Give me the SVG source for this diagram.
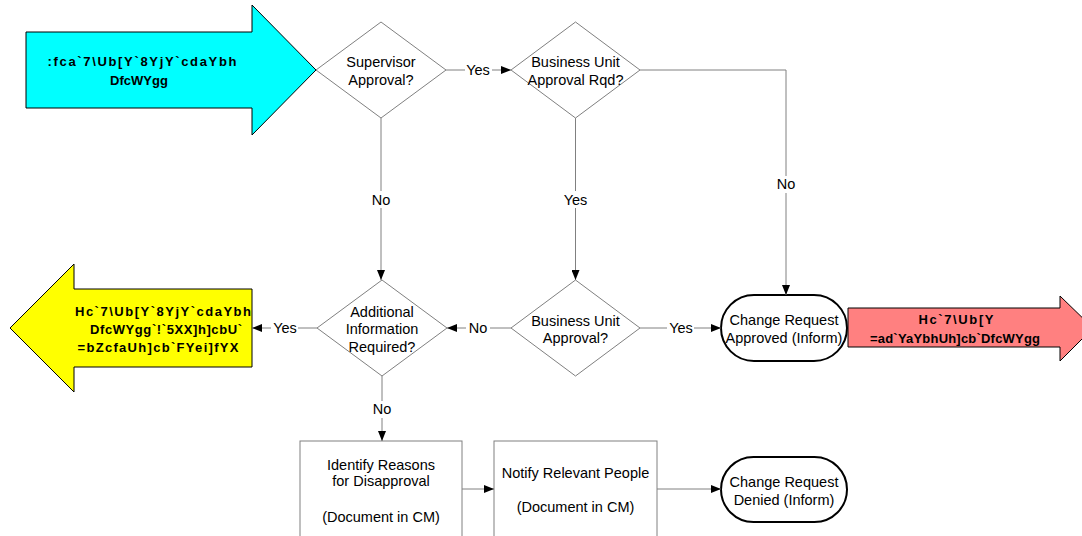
<svg xmlns="http://www.w3.org/2000/svg" width="1082" height="536" viewBox="0 0 1082 536">
<defs>
<marker id="ah" viewBox="0 0 10 8" refX="10" refY="4" markerWidth="10" markerHeight="8" markerUnits="userSpaceOnUse" orient="auto">
<path d="M0,0 L10,4 L0,8 Z" fill="#000"/>
</marker>
<style>
text{font-family:"Liberation Sans",Arial,sans-serif;font-size:14.5px;fill:#000;text-anchor:middle}
.big{font-weight:bold;font-size:13px}
.dia{fill:#fff;stroke:#808080;stroke-width:1}
.box{fill:#fff;stroke:#808080;stroke-width:1}
.term{fill:#fff;stroke:#000;stroke-width:2}
.arr{stroke:#000;stroke-width:1}
.con{fill:none;stroke:#808080;stroke-width:1;marker-end:url(#ah)}
.lbg{fill:#fff;stroke:none}
</style>
</defs>
<rect width="1082" height="536" fill="#fff"/>

<g id="arrow-in">
<path class="arr" fill="#00FFFF" d="M26,32 H252 V5 L316,70 L252,135 V108 H26 Z"/>
<text class="big" x="142" y="66" textLength="189" lengthAdjust="spacing">:fca`7\Ub[Y`8YjY`cdaYbh</text>
<text class="big" x="139" y="85">DfcWYgg</text>
</g>

<g id="arrow-info">
<path class="arr" fill="#FFFF00" d="M252,289 H74 V264 L10,328 L74,392 V367 H252 Z"/>
<text class="big" x="163" y="316" textLength="176" lengthAdjust="spacing">Hc`7\Ub[Y`8YjY`cdaYbh</text>
<text class="big" x="166" y="334" textLength="152" lengthAdjust="spacing">DfcWYgg`!`5XX]h]cbU`</text>
<text class="big" x="158" y="352" textLength="161" lengthAdjust="spacing">=bZcfaUh]cb`FYei]fYX</text>
</g>

<g id="arrow-out">
<path class="arr" fill="#FF8080" d="M848,308 H1060 V296 L1093,328 L1060,361 V347 H848 Z"/>
<text class="big" x="956" y="324" textLength="75" lengthAdjust="spacing">Hc`7\Ub[Y</text>
<text class="big" x="955" y="343" textLength="170" lengthAdjust="spacing">=ad`YaYbhUh]cb`DfcWYgg</text>
</g>

<g id="supervisor-approval">
<polygon class="dia" points="316,70 381,22 446,70 381,118"/>
<text x="381" y="67">Supervisor</text>
<text x="381" y="85">Approval?</text>
</g>

<g id="bu-approval-rqd">
<polygon class="dia" points="511,70 575.5,22 640,70 575.5,118"/>
<text x="575.5" y="67">Business Unit</text>
<text x="575.5" y="85">Approval Rqd?</text>
</g>

<g id="additional-info">
<polygon class="dia" points="317,328 382,280 447,328 382,376"/>
<text x="382" y="317">Additional</text>
<text x="382" y="334">Information</text>
<text x="382" y="352">Required?</text>
</g>

<g id="bu-approval">
<polygon class="dia" points="511,328 575.5,280 640,328 575.5,376"/>
<text x="575.5" y="326">Business Unit</text>
<text x="575.5" y="343">Approval?</text>
</g>

<g id="approved">
<rect class="term" x="721" y="295" width="126" height="66" rx="33" ry="33"/>
<text x="784" y="325">Change Request</text>
<text x="784" y="343">Approved (Inform)</text>
</g>

<g id="identify-reasons">
<rect class="box" x="300" y="441" width="162" height="110"/>
<text x="381" y="470">Identify Reasons</text>
<text x="381" y="486">for Disapproval</text>
<text x="381" y="522">(Document in CM)</text>
</g>

<g id="notify-people">
<rect class="box" x="494" y="441" width="163" height="110"/>
<text x="575.5" y="478">Notify Relevant People</text>
<text x="575.5" y="512">(Document in CM)</text>
</g>

<g id="denied">
<rect class="term" x="721" y="457" width="126" height="65" rx="32.5" ry="32.5"/>
<text x="784" y="487">Change Request</text>
<text x="784" y="505">Denied (Inform)</text>
</g>

<g id="connectors">
<path class="con" d="M446,70 H511"/>
<path class="con" d="M381,118 V280"/>
<path class="con" d="M575.5,118 V280"/>
<path class="con" d="M640,70 H786 V295"/>
<path class="con" d="M317,328 H252"/>
<path class="con" d="M511,328 H447"/>
<path class="con" d="M640,328 H721"/>
<path class="con" d="M382,376 V441"/>
<path class="con" d="M462,489 H494"/>
<path class="con" d="M657,489 H721"/>
<rect class="lbg" x="465" y="62" width="27" height="16"/>
<text x="478" y="75">Yes</text>
<rect class="lbg" x="370" y="191" width="24" height="17"/>
<text x="381" y="205">No</text>
<rect class="lbg" x="562" y="191" width="27" height="17"/>
<text x="575.5" y="205">Yes</text>
<rect class="lbg" x="774" y="176" width="24" height="17"/>
<text x="786" y="189">No</text>
<rect class="lbg" x="466" y="320" width="24" height="16"/>
<text x="478" y="333">No</text>
<rect class="lbg" x="667" y="320" width="27" height="16"/>
<text x="681" y="333">Yes</text>
<rect class="lbg" x="271" y="320" width="27" height="16"/>
<text x="285" y="333">Yes</text>
<rect class="lbg" x="370" y="401" width="24" height="17"/>
<text x="382" y="414">No</text>
</g>
</svg>
